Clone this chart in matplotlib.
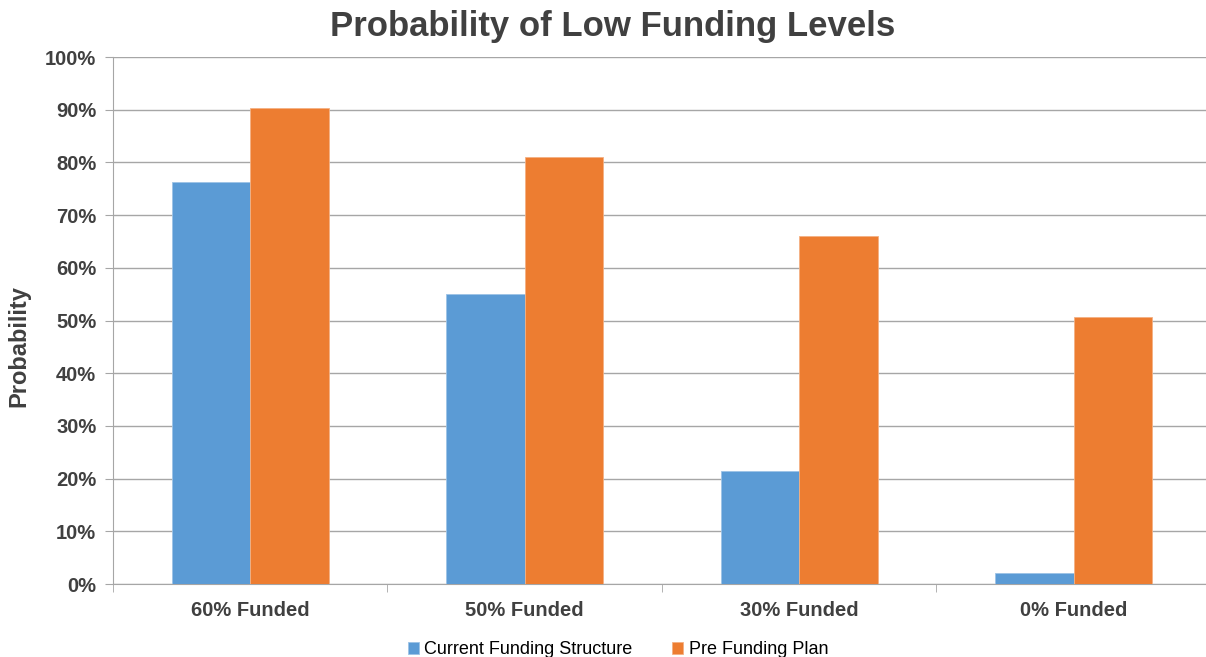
import numpy as np
import matplotlib.pyplot as plt
from matplotlib.ticker import PercentFormatter

categories = ["60% Funded", "50% Funded", "30% Funded", "0% Funded"]
current = [76.2, 55.0, 21.5, 2.1]
prefund = [90.3, 81.1, 66.1, 50.7]
series_names = ["Current Funding Structure", "Pre Funding Plan"]

plt.rcParams['font.family'] = ['Liberation Sans', 'DejaVu Sans']
txt = '#404040'
blue = '#5B9BD5'
orange = '#ED7D31'

fig = plt.figure(figsize=(12.06, 6.57), dpi=100)
ax = fig.add_axes([0.0937, 0.1111, 0.9104, 0.8021])

x = np.arange(len(categories))
w = 0.286
ax.bar(x - w / 2, current, w, color=blue, edgecolor='#9DC3E6', linewidth=0.6, label=series_names[0], zorder=3)
ax.bar(x + w / 2, prefund, w, color=orange, edgecolor='#F4B183', linewidth=0.6, label=series_names[1], zorder=3)

ax.set_xlim(-0.5, len(categories) - 0.5)
ax.set_ylim(0, 100)
ax.set_yticks(np.arange(0, 101, 10))
ax.yaxis.set_major_formatter(PercentFormatter(decimals=0))
ax.grid(axis='y', color='#A6A6A6', linewidth=1, zorder=0)

ax.set_xticks(x)
ax.set_xticklabels(categories, fontsize=14.5, fontweight='bold', color=txt)
ax.set_xticks(np.arange(-0.5, len(categories)), minor=True)
ax.tick_params(axis='x', which='major', length=0, pad=12)
ax.tick_params(axis='x', which='minor', length=6, color='#A6A6A6')
ax.tick_params(axis='y', length=6, color='#A6A6A6', labelsize=14.5, labelcolor=txt, pad=6)
for lab in ax.get_yticklabels():
    lab.set_fontweight('bold')

for s in ['top', 'right']:
    ax.spines[s].set_visible(False)
for s in ['left', 'bottom']:
    ax.spines[s].set_color('#A6A6A6')

ax.set_ylabel("Probability", fontsize=17, fontweight='bold', color=txt)
ax.yaxis.set_label_coords(-0.0756, 0.452)
fig.suptitle("Probability of Low Funding Levels", fontsize=25, fontweight='bold', color=txt, x=0.508, y=0.985)

ax.legend(loc='upper center', bbox_to_anchor=(0.46, -0.078), ncol=2, frameon=False,
          fontsize=13, handlelength=0.6, handleheight=0.6, handletextpad=0.3, columnspacing=2.2,
          labelcolor='black')

fig.savefig("out.png", dpi=100)
